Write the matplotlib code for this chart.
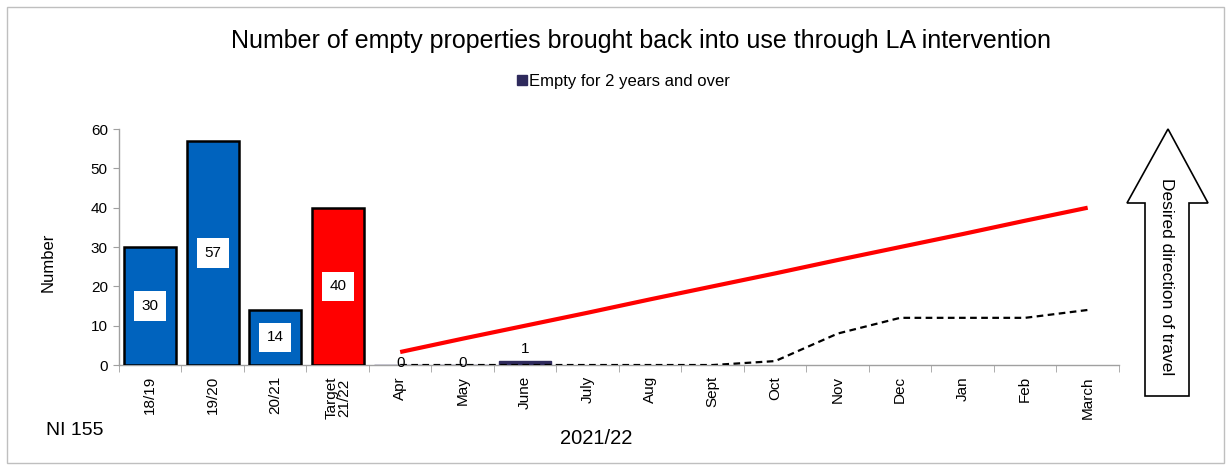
import matplotlib
matplotlib.use("Agg")
import matplotlib.pyplot as plt
from matplotlib.patches import Polygon, Rectangle
import numpy as np

plt.rcParams['font.family'] = ['Liberation Sans', 'DejaVu Sans']

# Categories along the x axis
categories = ["18/19", "19/20", "20/21", "Target\n21/22", "Apr", "May", "June", "July",
              "Aug", "Sept", "Oct", "Nov", "Dec", "Jan", "Feb", "March"]

# Annual totals and target
annual_labels = ["18/19", "19/20", "20/21", "Target\n21/22"]
annual_values = [30, 57, 14, 40]
annual_colors = ["#0063BE", "#0063BE", "#0063BE", "#FF0000"]

# Monthly figures for 2021/22
months = ["Apr", "May", "June", "July", "Aug", "Sept", "Oct", "Nov", "Dec", "Jan", "Feb", "March"]
empty_2yrs = [0, 0, 1]                      # Empty for 2 years and over (Apr-June)
target_line = [3.3, 6.7, 10, 13.3, 16.7, 20, 23.3, 26.7, 30, 33.3, 36.7, 40]
cumulative = [0, 0, 0, 0, 0, 0, 1, 8, 12, 12, 12, 14]

fig = plt.figure(figsize=(12.3, 4.71), dpi=100)
fig.patch.set_facecolor("white")

# Outer frame
fig.add_artist(Rectangle((0.006, 0.017), 0.989, 0.968, transform=fig.transFigure,
                         fill=False, edgecolor="#BFBFBF", linewidth=1.0))

ax = fig.add_axes([0.0967, 0.225, 0.8130, 0.501])
x = np.arange(len(categories))

# Annual bars
xa = [categories.index(c) for c in annual_labels]
bars = ax.bar(xa, annual_values, width=0.83, color=annual_colors,
              edgecolor="black", linewidth=1.8, zorder=3)
for b, v in zip(bars, annual_values):
    ax.text(b.get_x() + b.get_width() / 2, v / 2, str(v), ha="center", va="center",
            fontsize=11, zorder=5,
            bbox=dict(boxstyle="square,pad=0.5", facecolor="white", edgecolor="none"))

# Monthly bars (empty for 2 years and over)
xm = [categories.index(m) for m in months]
mb = ax.bar(xm[:len(empty_2yrs)], empty_2yrs, width=0.83, color="#2E2A5C",
            edgecolor="#2E2A5C", linewidth=1.0, zorder=3,
            label="Empty for 2 years and over")
for b, v in zip(mb, empty_2yrs):
    cx = b.get_x() + b.get_width() / 2
    if v > 0:
        ax.text(cx, v + 1.4, str(v), ha="center", va="bottom", fontsize=11, zorder=5)
    else:
        ax.text(cx, 0.4, str(v), ha="center", va="center", fontsize=11, zorder=5)

# Target trajectory and cumulative progress
ax.plot(xm, target_line, color="#FF0000", linewidth=3, zorder=4, solid_capstyle="butt")
ax.plot(xm, cumulative, color="black", linewidth=1.6, linestyle=(0, (3, 2)), zorder=4)

ax.set_xlim(-0.5, len(categories) - 0.5)
ax.set_ylim(0, 60)
ax.set_yticks(range(0, 61, 10))
ax.tick_params(axis="y", labelsize=11, length=4, color="#A0A0A0", pad=4)

ax.set_xticks(x)
ax.set_xticklabels(categories, rotation=90, fontsize=11, linespacing=0.9)
ax.tick_params(axis="x", length=0, pad=8)
ax.set_xticks(np.arange(-0.5, len(categories), 1), minor=True)
ax.tick_params(axis="x", which="minor", length=5, color="#A0A0A0")

for s in ["top", "right"]:
    ax.spines[s].set_visible(False)
for s in ["left", "bottom"]:
    ax.spines[s].set_color("#A0A0A0")
    ax.spines[s].set_linewidth(1.0)

ax.set_ylabel("Number", fontsize=12)
ax.yaxis.set_label_coords(-0.063, 0.436)

# Titles and annotations
fig.text(0.521, 0.913, "Number of empty properties brought back into use through LA intervention",
         ha="center", va="center", fontsize=18)
leg = fig.legend(handles=[mb], loc="center", bbox_to_anchor=(0.507, 0.828), frameon=False,
                 fontsize=12, handlelength=0.55, handleheight=0.55, handletextpad=0.15,
                 borderpad=0.1)
fig.text(0.037, 0.087, "NI 155", fontsize=14, ha="left", va="center")
fig.text(0.485, 0.068, "2021/22", fontsize=14.5, ha="center", va="center")

# Desired direction arrow
W, H = 1230.0, 471.0
pts_px = [(1168, 129), (1208, 203), (1189, 203), (1189, 396),
          (1145, 396), (1145, 203), (1127, 203)]
pts = [(px / W, 1 - py / H) for px, py in pts_px]
fig.add_artist(Polygon(pts, closed=True, transform=fig.transFigure,
                       facecolor="white", edgecolor="black", linewidth=1.2))
fig.text(1167 / W, 1 - 277 / H, "Desired direction of travel", rotation=-90,
         ha="center", va="center", fontsize=12.5)

fig.savefig("out.png", dpi=100)
